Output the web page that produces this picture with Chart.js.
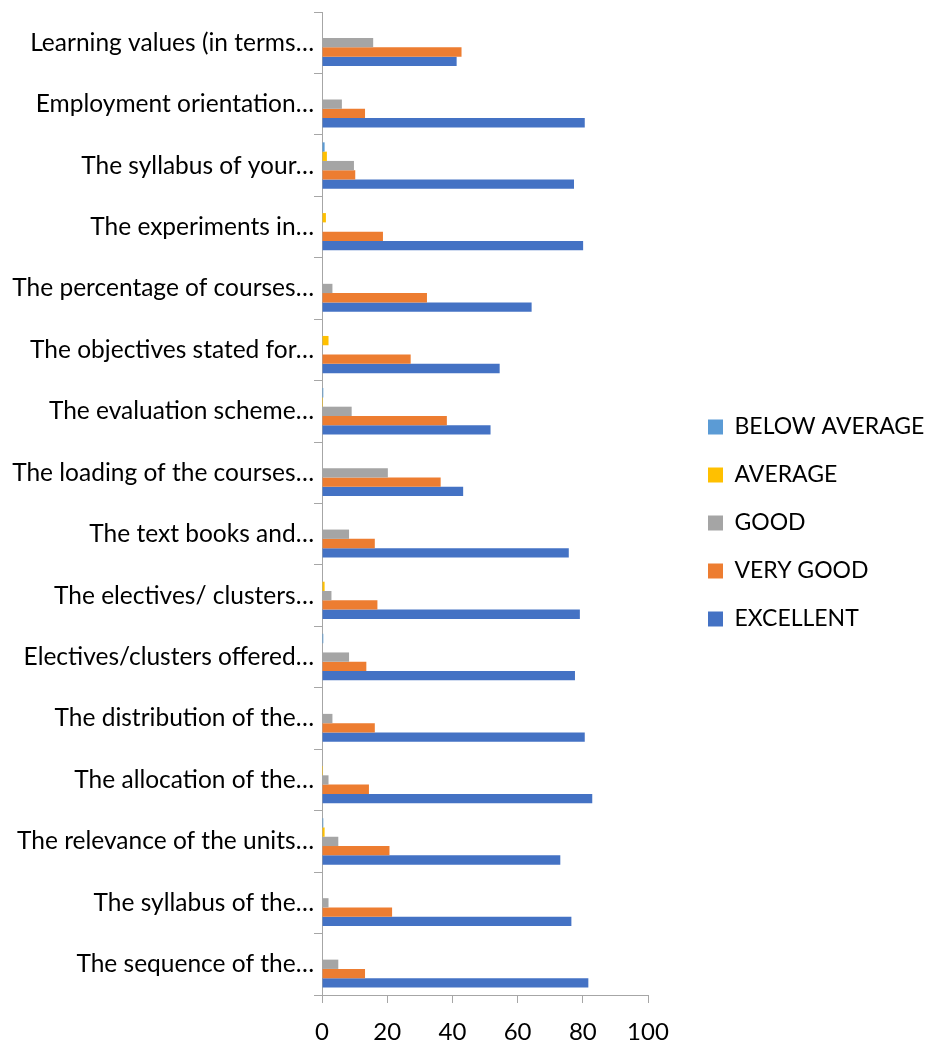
<!DOCTYPE html>
<html>
<head>
<meta charset="utf-8">
<script src="https://cdn.jsdelivr.net/npm/chart.js@4/dist/chart.umd.min.js"></script>
<style>
  html, body { margin: 0; padding: 0; background: #fff; }
  #wrap { width: 925px; height: 1046px; }
</style>
</head>
<body>
<div id="wrap"><canvas id="my-chart"></canvas></div>
<script>
// categories, top to bottom as in the picture
const categories = [
  'Learning values (in terms…',
  'Employment orientation…',
  'The syllabus of your…',
  'The experiments in…',
  'The percentage of courses…',
  'The objectives stated for…',
  'The evaluation scheme…',
  'The loading of the courses…',
  'The text books and…',
  'The electives/ clusters…',
  'Electives/clusters offered…',
  'The distribution of the…',
  'The allocation of the…',
  'The relevance of the units…',
  'The syllabus of the…',
  'The sequence of the…'
]

const belowAverage = [0, 0, 0.8, 0, 0, 0, 0.4, 0, 0, 0, 0.4, 0, 0, 0.4, 0, 0]
const average      = [0, 0, 1.5, 1.2, 0, 2.0, 0.3, 0, 0, 0.8, 0, 0, 0.3, 0.8, 0, 0]
const good         = [15.7, 6.1, 9.8, 0, 3.2, 0, 9.1, 20.2, 8.3, 2.9, 8.3, 3.2, 2.0, 5.0, 2.0, 5.0]
const veryGood     = [42.8, 13.2, 10.2, 18.7, 32.2, 27.2, 38.3, 36.4, 16.2, 17.0, 13.6, 16.2, 14.4, 20.7, 21.5, 13.2]
const excellent    = [41.3, 80.6, 77.3, 80.1, 64.3, 54.5, 51.7, 43.3, 75.7, 79.1, 77.6, 80.6, 82.9, 73.1, 76.5, 81.7]

const xTicks = [0, 20, 40, 60, 80, 100]

const fontFamily = 'Lato'
const axisGray = '#a6a6a6'

// legend sits a bit away from the plot, like the excel one
const legendGap = {
  id: 'legendGap',
  afterLayout(chart) {
    chart.legend.left += 35
    chart.legend.right += 35
  }
}

const myChartRef = document.getElementById('my-chart').getContext('2d')

new Chart(myChartRef, {
  type: 'bar',
  data: {
    labels: categories,
    datasets: [
      { label: 'BELOW AVERAGE', data: belowAverage, backgroundColor: '#5B9BD5' },
      { label: 'AVERAGE', data: average, backgroundColor: '#FFC000' },
      { label: 'GOOD', data: good, backgroundColor: '#A5A5A5' },
      { label: 'VERY GOOD', data: veryGood, backgroundColor: '#ED7D31' },
      { label: 'EXCELLENT', data: excellent, backgroundColor: '#4472C4' }
    ]
  },
  plugins: [legendGap],
  options: {
    indexAxis: 'y',
    responsive: true,
    maintainAspectRatio: false,
    animation: false,
    layout: { padding: { top: 0, left: 0, right: 1, bottom: 0 } },
    datasets: {
      bar: { barPercentage: 1, categoryPercentage: 0.757 }
    },
    scales: {
      x: {
        min: 0,
        max: 100,
        afterBuildTicks: (scale) => { scale.ticks = xTicks.map(v => ({ value: v })) },
        // keep the plot box where the picture has it: 12px on top, 277px right
        afterFit: (scale) => { scale.height = 51; scale.paddingTop = 12; scale.paddingRight = 277 },
        grid: { drawOnChartArea: false, tickLength: 8, color: axisGray },
        border: { color: axisGray, width: 1 },
        ticks: { color: '#000', padding: 15, font: { family: fontFamily, size: 24 } }
      },
      y: {
        afterFit: (scale) => { scale.width = 322; scale.paddingTop = 0; scale.paddingBottom = 0 },
        grid: { drawOnChartArea: false, tickLength: 8, color: axisGray, offset: true },
        border: { color: axisGray, width: 1 },
        ticks: { color: '#000', padding: 0, autoSkip: false, font: { family: fontFamily, size: 24.5 } }
      }
    },
    plugins: {
      legend: {
        position: 'right',
        align: 'center',
        maxWidth: 280,
        labels: {
          boxWidth: 15,
          boxHeight: 15,
          padding: 25,
          color: '#000',
          font: { family: fontFamily, size: 23 }
        }
      },
      tooltip: { enabled: false }
    }
  }
})
</script>
</body>
</html>
